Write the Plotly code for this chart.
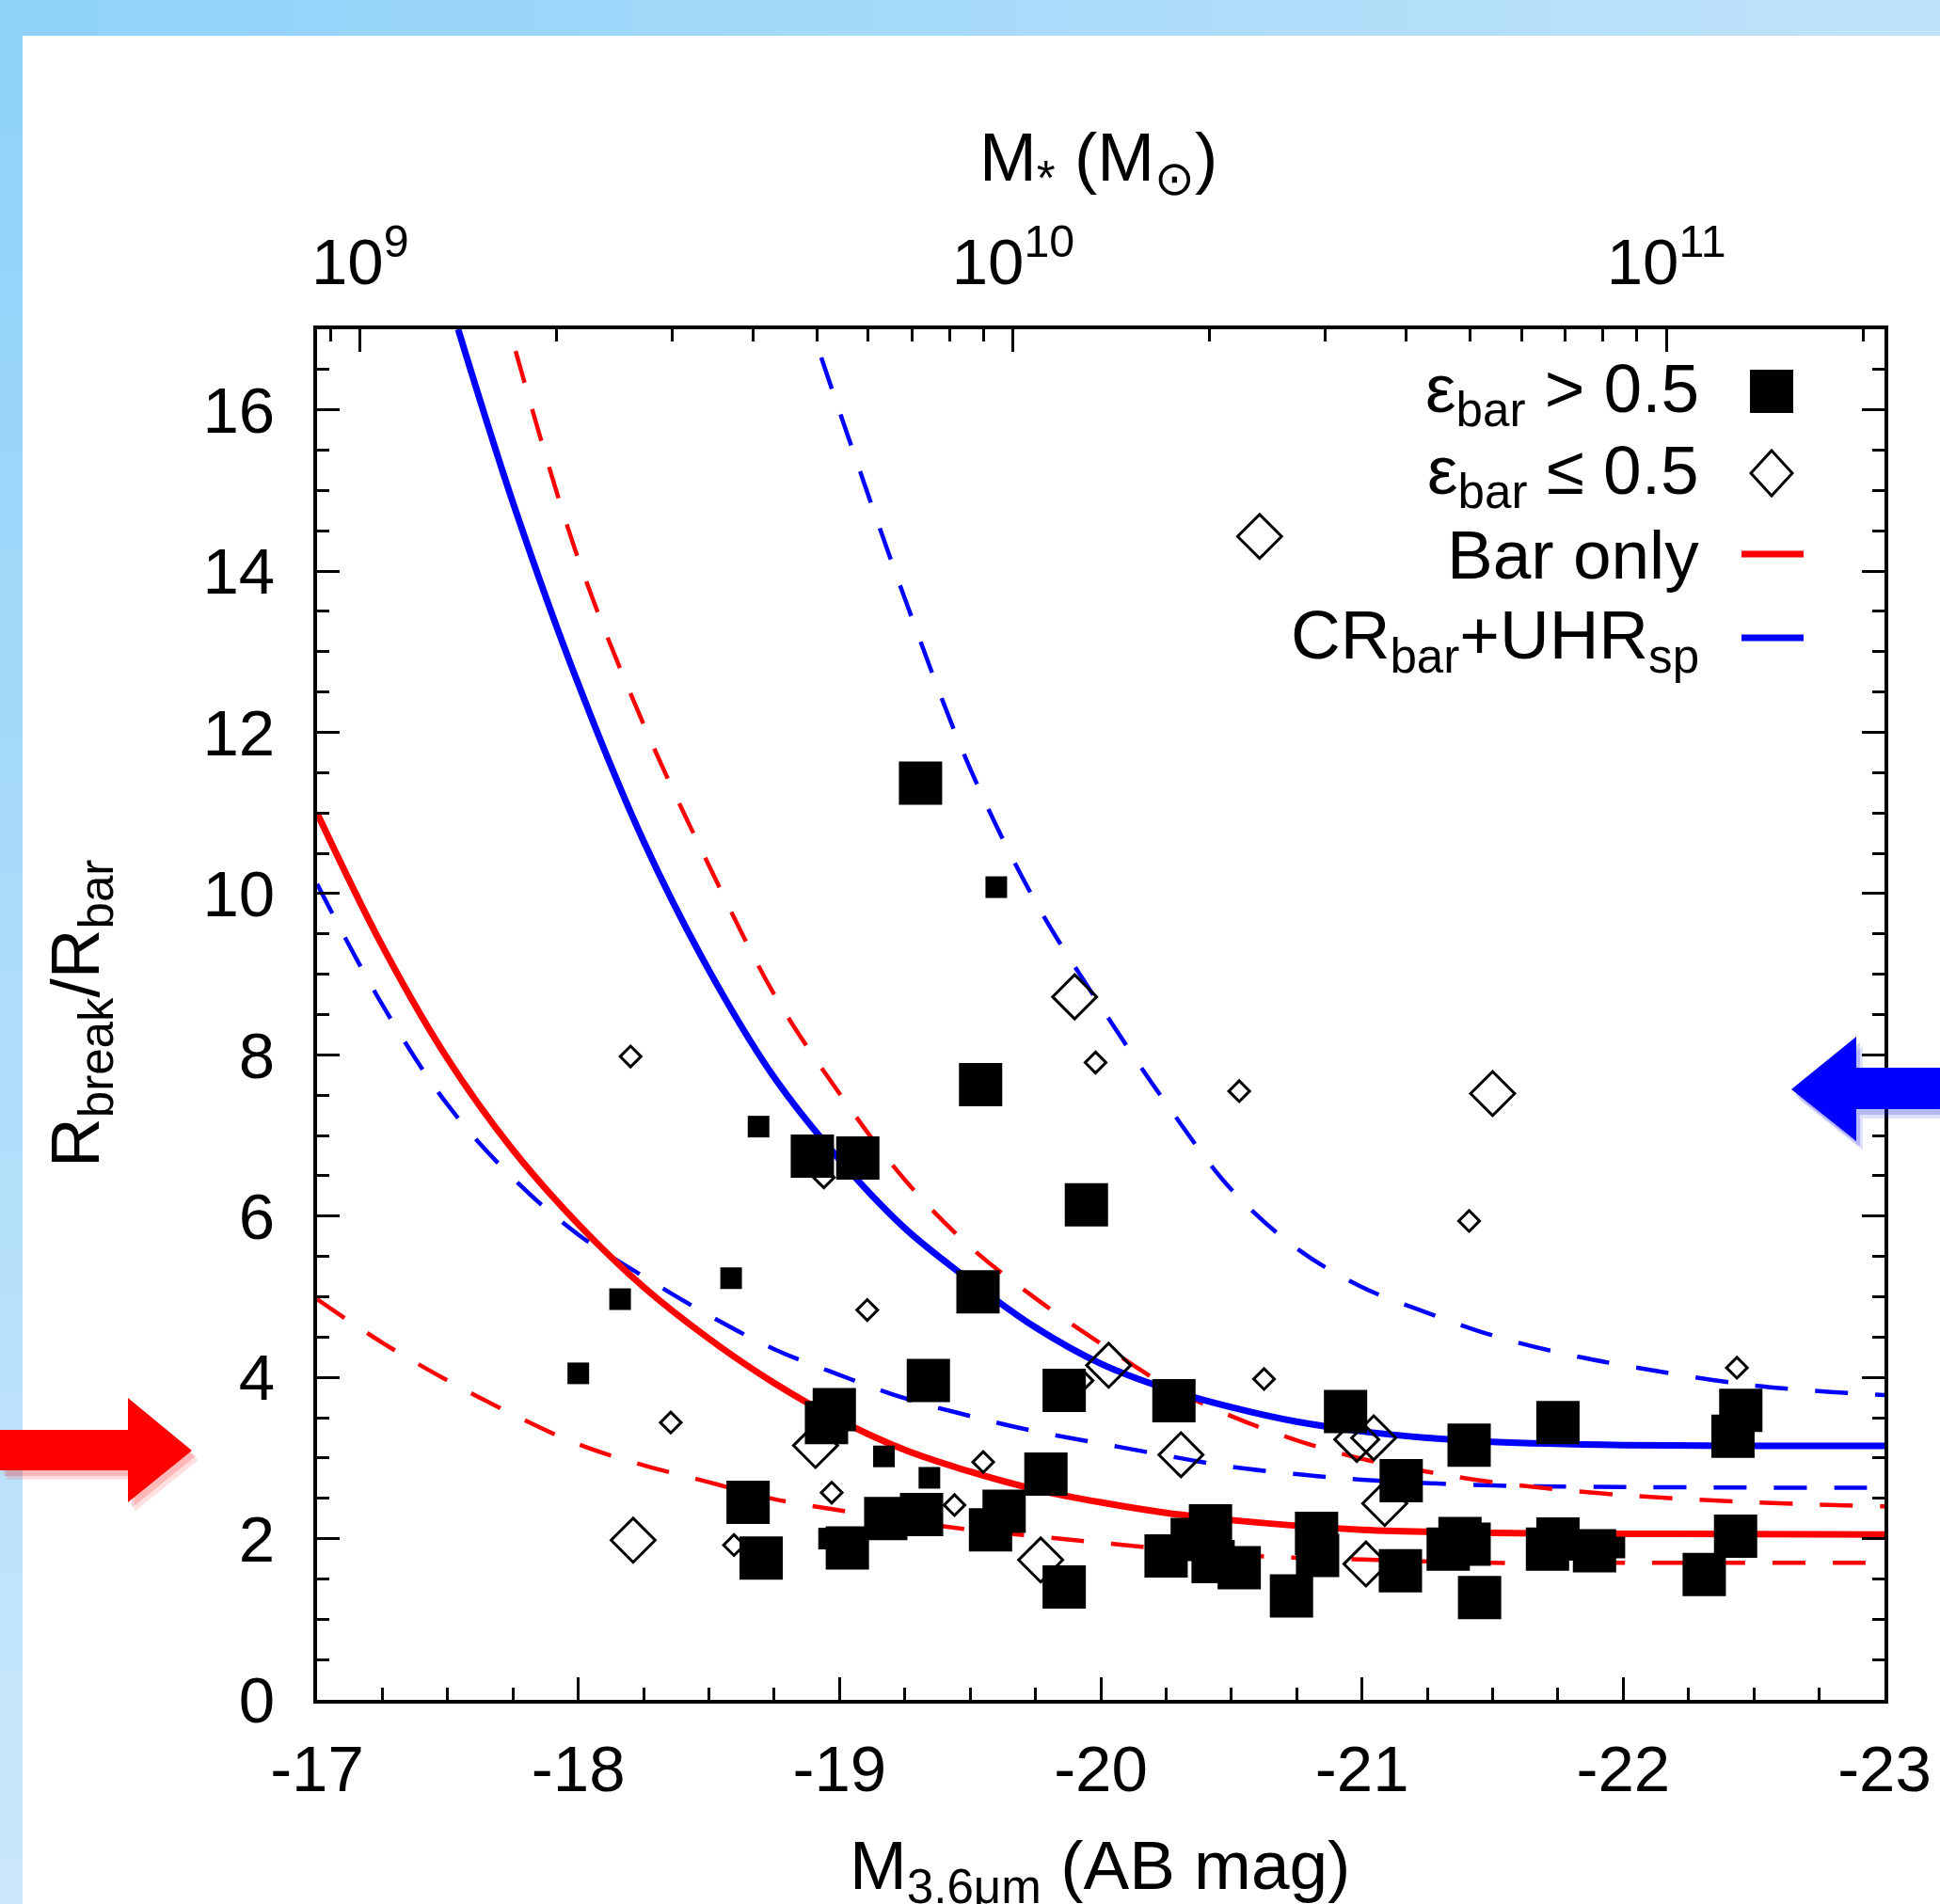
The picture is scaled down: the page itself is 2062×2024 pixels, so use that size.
import plotly.graph_objects as go

# ---------------- data ----------------
# filled squares, eps_bar > 0.5 (large symbols)
sq_big_mag = [-19.31, -19.54, -19.945, -18.896, -19.07, -19.53, -19.34, -19.86, -18.95, -18.98,
              -19.79, -18.65, -18.70, -19.03, -19.177, -19.314, -19.578, -19.63, -19.86, -20.28,
              -20.937, -21.15, -20.25, -20.42, -20.53, -20.35, -20.43, -20.73, -20.826, -20.83,
              -21.147, -22.45, -22.42, -21.75, -21.41, -21.45, -21.375, -21.33, -21.41, -21.71,
              -21.75, -21.89, -22.31, -22.43]
sq_big_ratio = [11.37, 7.63, 6.14, 6.745, 6.72, 5.06, 3.96, 3.84, 3.44, 3.60,
                2.80, 2.45, 1.76, 1.885, 2.25, 2.30, 2.11, 2.34, 1.40, 3.71,
                3.575, 2.72, 1.785, 2.16, 1.64, 1.99, 1.715, 1.29, 2.066, 1.79,
                1.60, 3.59, 3.27, 3.44, 3.16, 1.27, 2.0, 1.87, 1.93, 1.87,
                1.995, 1.85, 1.556, 2.03]
# filled squares (small symbols)
sq_small_mag = [-18.69, -19.60, -18.585, -18.16, -18.00, -19.17, -19.344, -18.96, -21.966]
sq_small_ratio = [7.11, 10.08, 5.23, 4.97, 4.05, 3.02, 2.754, 2.0, 1.89]
# open diamonds, eps_bar <= 0.5 (large symbols)
dm_big_mag = [-20.608, -19.90, -21.50, -18.908, -19.77, -20.03, -20.307, -20.98, -21.045,
              -21.087, -21.015, -18.21]
dm_big_ratio = [14.43, 8.72, 7.52, 3.155, 1.735, 4.15, 3.04, 3.23, 3.25,
                2.435, 1.685, 1.98]
# open diamonds (small symbols)
dm_small_mag = [-19.106, -18.97, -18.596, -19.44, -19.55, -20.625, -22.435, -19.98, -20.53,
                -21.41, -18.20, -18.94, -18.354, -19.93]
dm_small_ratio = [4.835, 2.57, 1.92, 2.416, 2.95, 3.98, 4.12, 7.905, 7.55,
                  5.94, 7.98, 6.48, 3.44, 3.96]

# model curves
bar_mag = [-17, -17.25, -17.5, -17.75, -18, -18.25, -18.5, -18.75, -19, -19.25, -19.5,
           -19.75, -20, -20.25, -20.5, -20.75, -21, -21.5, -22, -23]
bar_ratio = [11.0, 9.35, 7.95, 6.82, 5.9, 5.12, 4.48, 3.93, 3.47, 3.1, 2.83,
             2.61, 2.45, 2.32, 2.23, 2.16, 2.11, 2.07, 2.06, 2.05]
bar_hi_mag = [-17.76, -18.0, -18.25, -18.5, -18.75, -19.0, -19.25, -19.5, -19.75, -20.0, -20.25,
              -20.5, -20.75, -21.0, -21.25, -21.5, -22.0, -22.5, -23.0]
bar_hi_ratio = [16.73, 14.15, 12.1, 10.35, 8.75, 7.52, 6.45, 5.62, 4.98, 4.42, 3.9,
                3.52, 3.22, 2.99, 2.83, 2.7, 2.54, 2.45, 2.4]
bar_lo_mag = [-17, -17.25, -17.5, -17.75, -18, -18.25, -18.5, -18.75, -19, -19.25, -19.5, -19.75,
              -20, -20.5, -21, -21.5, -22, -23]
bar_lo_ratio = [4.97, 4.43, 3.96, 3.54, 3.17, 2.91, 2.70, 2.49, 2.35, 2.22, 2.11, 2.03,
                1.95, 1.80, 1.74, 1.70, 1.70, 1.70]
cr_mag = [-17.54, -17.75, -18.0, -18.25, -18.5, -18.75, -19.0, -19.25, -19.5, -19.75, -20.0,
          -20.25, -20.5, -20.75, -21.0, -21.25, -21.5, -22.0, -22.5, -23.0]
cr_ratio = [17.0, 14.85, 12.6, 10.65, 9.05, 7.72, 6.7, 5.85, 5.2, 4.62, 4.17,
            3.86, 3.63, 3.45, 3.33, 3.25, 3.2, 3.16, 3.15, 3.15]
cr_hi_mag = [-18.93, -19.0, -19.25, -19.5, -19.75, -20.0, -20.25, -20.5, -20.75, -21.0, -21.25,
             -21.5, -21.75, -22.0, -22.5, -23.0]
cr_hi_ratio = [16.65, 15.98, 13.66, 11.55, 9.9, 8.6, 7.4, 6.33, 5.6, 5.12, 4.8,
               4.52, 4.31, 4.15, 3.9, 3.78]
cr_lo_mag = [-17, -17.25, -17.5, -17.75, -18, -18.25, -18.5, -18.75, -19, -19.25, -19.5, -19.75,
             -20, -20.25, -20.5, -20.75, -21, -21.5, -22, -23]
cr_lo_ratio = [10.12, 8.62, 7.38, 6.47, 5.77, 5.25, 4.77, 4.35, 4.03, 3.74, 3.52, 3.33,
               3.18, 3.03, 2.89, 2.80, 2.73, 2.66, 2.64, 2.63]

# axes / ticks
mag_ticks = [-17, -18, -19, -20, -21, -22, -23]
mag_tick_text = ["-17", "-18", "-19", "-20", "-21", "-22", "-23"]
ratio_ticks = [0, 2, 4, 6, 8, 10, 12, 14, 16]
mass_ticks = [1e9, 1e10, 1e11]
mass_tick_text = ["10<sup>9</sup>", "10<sup>10</sup>", "10<sup>11</sup>"]
mass_minor = [m * 10 ** e for e in (8, 9, 10, 11) for m in range(2, 10)]
LOGM_ZP = 2.134  # log10(M*) = LOGM_ZP - 0.4 * M_3.6

# ---------------- geometry ----------------
W, H = 2062, 2024
L, R, T, B = 337, 59, 350, 217
PW, PH = W - L - R, H - T - B
FONT = "Liberation Sans, Arial, Helvetica, sans-serif"
FS_TICK = 69
FS_LEG = 73
FS_TITLE = 73


def px(fx):
    return (fx - L) / PW


def py(fy):
    return (H - B - fy) / PH


fig = go.Figure()

dash = "35px,29px"
fig.add_trace(go.Scatter(x=cr_hi_mag, y=cr_hi_ratio, mode="lines", line=dict(color="#0000ff", width=4.5, dash=dash, shape="spline")))
fig.add_trace(go.Scatter(x=cr_lo_mag, y=cr_lo_ratio, mode="lines", line=dict(color="#0000ff", width=4.5, dash=dash, shape="spline")))
fig.add_trace(go.Scatter(x=bar_hi_mag, y=bar_hi_ratio, mode="lines", line=dict(color="#ff0000", width=4.5, dash=dash, shape="spline")))
fig.add_trace(go.Scatter(x=bar_lo_mag, y=bar_lo_ratio, mode="lines", line=dict(color="#ff0000", width=4.5, dash=dash, shape="spline")))
fig.add_trace(go.Scatter(x=cr_mag, y=cr_ratio, mode="lines", line=dict(color="#0000ff", width=7, shape="spline")))
fig.add_trace(go.Scatter(x=bar_mag, y=bar_ratio, mode="lines", line=dict(color="#ff0000", width=7, shape="spline")))

fig.add_trace(go.Scatter(x=sq_big_mag, y=sq_big_ratio, mode="markers",
                         marker=dict(symbol="square", size=46, color="black", line=dict(width=0))))
fig.add_trace(go.Scatter(x=sq_small_mag, y=sq_small_ratio, mode="markers",
                         marker=dict(symbol="square", size=23, color="black", line=dict(width=0))))
fig.add_trace(go.Scatter(x=dm_big_mag, y=dm_big_ratio, mode="markers",
                         marker=dict(symbol="diamond-open", size=36, color="black", line=dict(width=3, color="black"))))
fig.add_trace(go.Scatter(x=dm_small_mag, y=dm_small_ratio, mode="markers",
                         marker=dict(symbol="diamond-open", size=17, color="black", line=dict(width=3, color="black"))))
# carrier trace for the stellar-mass axis
fig.add_trace(go.Scatter(x=[], y=[], xaxis="x2", yaxis="y", mode="markers"))

tickfont = dict(family=FONT, size=FS_TICK, color="black")
fig.update_layout(
    width=W, height=H, margin=dict(l=L, r=R, t=T, b=B, autoexpand=False),
    paper_bgcolor="white", plot_bgcolor="white", showlegend=False,
    xaxis=dict(range=[-17, -23], tickmode="array", tickvals=mag_ticks, ticktext=mag_tick_text,
               ticks="inside", ticklen=24, tickwidth=3, tickcolor="black",
               showline=True, linewidth=4, linecolor="black", mirror=False,
               showgrid=False, zeroline=False, tickfont=tickfont, ticklabelstandoff=10,
               minor=dict(dtick=0.25, tick0=0, ticks="inside", ticklen=13, tickwidth=3, tickcolor="black"),
               automargin=False),
    xaxis2=dict(overlaying="x", side="top", anchor="y", type="log",
                range=[LOGM_ZP - 0.4 * (-17), LOGM_ZP - 0.4 * (-23)],
                tickmode="array", tickvals=mass_ticks, ticktext=mass_tick_text,
                ticks="inside", ticklen=24, tickwidth=3, tickcolor="black",
                showline=True, linewidth=4, linecolor="black",
                showgrid=False, zeroline=False, tickfont=tickfont, ticklabelstandoff=16,
                minor=dict(tickvals=mass_minor, ticks="inside", ticklen=13, tickwidth=3, tickcolor="black"),
                automargin=False),
    yaxis=dict(range=[0, 17], tickmode="array", tickvals=ratio_ticks,
               ticks="inside", ticklen=24, tickwidth=3, tickcolor="black",
               showline=True, linewidth=4, linecolor="black", mirror="ticks",
               showgrid=False, zeroline=False, tickfont=tickfont, ticklabelstandoff=27,
               minor=dict(dtick=0.5, tick0=0, ticks="inside", ticklen=13, tickwidth=3, tickcolor="black"),
               automargin=False),
)

shapes = []


def lerp(c0, c1, t):
    return "rgb(%d,%d,%d)" % tuple(round(a + (b - a) * t) for a, b in zip(c0, c1))


top_c0, top_c1 = (142, 210, 249), (192, 227, 250)
left_c0, left_c1 = (142, 210, 249), (202, 231, 250)
N = 40
for i in range(N):
    x0, x1 = W * i / N, W * (i + 1) / N + 1
    shapes.append(dict(type="rect", xref="paper", yref="paper", x0=px(x0), x1=px(x1), y0=py(0), y1=py(38),
                       fillcolor=lerp(top_c0, top_c1, i / (N - 1)), line=dict(width=0), layer="above"))
for i in range(N):
    y0, y1 = 38 + (H - 38) * i / N, 38 + (H - 38) * (i + 1) / N + 1
    shapes.append(dict(type="rect", xref="paper", yref="paper", x0=px(0), x1=px(24), y0=py(y0), y1=py(y1),
                       fillcolor=lerp(left_c0, left_c1, i / (N - 1)), line=dict(width=0), layer="above"))


def poly(points, color):
    d = "M " + " L ".join("%.5f,%.5f" % (px(a), py(b)) for a, b in points) + " Z"
    return dict(type="path", xref="paper", yref="paper", path=d, fillcolor=color, line=dict(width=0), layer="above")


red_arrow = [(0, 1520), (136, 1520), (136, 1486), (204, 1542), (136, 1597), (136, 1563), (0, 1563)]
blue_arrow = [(2062, 1135), (1973, 1135), (1973, 1102), (1904, 1158), (1973, 1213), (1973, 1179), (2062, 1179)]
for dx, dy, a in [(7, 10, 0.12), (4, 6, 0.18)]:
    shapes.append(poly([(p + dx, q + dy) for p, q in red_arrow], "rgba(255,0,0,%s)" % a))
    shapes.append(poly([(p + dx, q + dy) for p, q in blue_arrow], "rgba(0,0,255,%s)" % a))
shapes.append(poly(red_arrow, "#ff0000"))
shapes.append(poly(blue_arrow, "#0000ff"))

# legend keys
kx = 1883
shapes.append(poly([(kx - 23, 393), (kx + 23, 393), (kx + 23, 439), (kx - 23, 439)], "black"))
shapes.append(dict(type="path", xref="paper", yref="paper", layer="above",
                   path="M %.5f,%.5f L %.5f,%.5f L %.5f,%.5f L %.5f,%.5f Z" % (
                       px(kx), py(479), px(kx + 22), py(503), px(kx), py(527), px(kx - 22), py(503)),
                   line=dict(color="black", width=3)))
shapes.append(dict(type="line", xref="paper", yref="paper", x0=px(1851), x1=px(1917), y0=py(589), y1=py(589),
                   line=dict(color="#ff0000", width=7), layer="above"))
shapes.append(dict(type="line", xref="paper", yref="paper", x0=px(1851), x1=px(1917), y0=py(678), y1=py(678),
                   line=dict(color="#0000ff", width=7), layer="above"))
fig.update_layout(shapes=shapes)

ann = []
lfont = dict(family=FONT, size=FS_LEG, color="black")
tfont = dict(family=FONT, size=FS_TITLE, color="black")
legend_rows = [("ε<sub>bar</sub> > 0.5", 418), ("ε<sub>bar</sub> ≤ 0.5", 505),
               ("Bar only", 589), ("CR<sub>bar</sub>+UHR<sub>sp</sub>", 680)]
for txt, yy in legend_rows:
    ann.append(dict(text=txt, xref="paper", yref="paper", x=px(1808), y=py(yy), xanchor="right",
                    yanchor="middle", showarrow=False, font=lfont))
ann.append(dict(text="M<sub>*</sub> (M<sub>⊙</sub>)", xref="paper", yref="paper", x=px(1167), y=py(172),
                xanchor="center", yanchor="middle", showarrow=False, font=tfont))
ann.append(dict(text="M<sub>3.6μm</sub> (AB mag)", xref="paper", yref="paper", x=px(1169), y=py(1988),
                xanchor="center", yanchor="middle", showarrow=False, font=tfont))
ann.append(dict(text="R<sub>break</sub>/R<sub>bar</sub>", xref="paper", yref="paper", x=px(85), y=py(1078),
                xanchor="center", yanchor="middle", textangle=-90, showarrow=False, font=tfont))
fig.update_layout(annotations=ann)

fig.write_html("out.html")
